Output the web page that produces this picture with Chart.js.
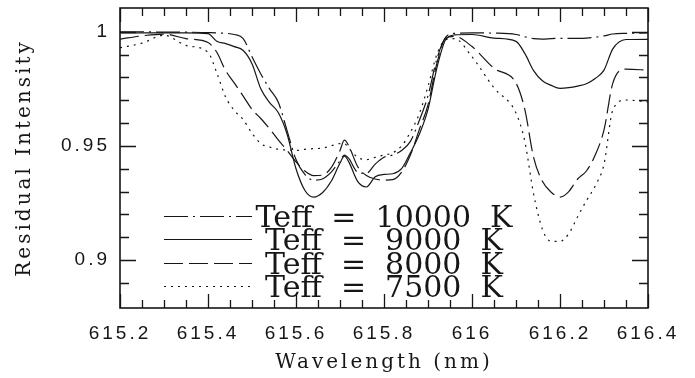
<!DOCTYPE html>
<html>
<head>
<meta charset="utf-8">
<script src="https://cdn.jsdelivr.net/npm/chart.js@4.4.1/dist/chart.umd.min.js"></script>
<style>
  html, body { margin: 0; padding: 0; background: #fff; }
  #wrap { width: 695px; height: 378px; }
</style>
</head>
<body>
<div id="wrap"><canvas id="spec" width="695" height="378"></canvas></div>
<script>
// --- DATA ---
const wavelength = [615.20, 615.25, 615.30, 615.35, 615.40, 615.42, 615.44, 615.46, 615.48, 615.50,
  615.52, 615.54, 615.56, 615.58, 615.60, 615.62, 615.64, 615.66, 615.68, 615.70,
  615.71, 615.72, 615.74, 615.76, 615.78, 615.80, 615.82, 615.84, 615.86, 615.88,
  615.90, 615.92, 615.94, 615.96, 616.00, 616.05, 616.10, 616.12, 616.14, 616.16,
  616.18, 616.20, 616.22, 616.24, 616.26, 616.28, 616.30, 616.32, 616.35, 616.40];

const teff10000 = [1.0000, 1.0000, 0.9998, 0.9998, 0.9996, 0.9995, 0.9993, 0.9988, 0.9970, 0.9890,
  0.9815, 0.9750, 0.9690, 0.9565, 0.9440, 0.9375, 0.9350, 0.9355, 0.9385, 0.9435,
  0.9460, 0.9445, 0.9385, 0.9380, 0.9420, 0.9450, 0.9460, 0.9480, 0.9520, 0.9610,
  0.9720, 0.9880, 0.9975, 0.9993, 0.9995, 0.9994, 0.9988, 0.9978, 0.9970, 0.9968,
  0.9970, 0.9971, 0.9971, 0.9971, 0.9972, 0.9976, 0.9982, 0.9990, 0.9993, 0.9995];

const teff9000 = [0.9995, 0.9995, 0.9995, 0.9995, 0.9992, 0.9958, 0.9948, 0.9935, 0.9918, 0.9860,
  0.9750, 0.9690, 0.9645, 0.9550, 0.9400, 0.9306, 0.9276, 0.9295, 0.9345, 0.9425,
  0.9455, 0.9430, 0.9345, 0.9320, 0.9365, 0.9375, 0.9378, 0.9400, 0.9470, 0.9550,
  0.9660, 0.9840, 0.9965, 0.9986, 0.9988, 0.9972, 0.9958, 0.9905, 0.9830, 0.9785,
  0.9765, 0.9752, 0.9755, 0.9762, 0.9772, 0.9795, 0.9832, 0.9925, 0.9966, 0.9967];

const teff8000 = [0.9968, 0.9982, 0.9990, 0.9970, 0.9953, 0.9910, 0.9830, 0.9775, 0.9718, 0.9660,
  0.9620, 0.9575, 0.9525, 0.9480, 0.9430, 0.9390, 0.9370, 0.9372, 0.9405, 0.9480,
  0.9525, 0.9500, 0.9410, 0.9370, 0.9355, 0.9350, 0.9352, 0.9385, 0.9460, 0.9570,
  0.9680, 0.9860, 0.9972, 0.9980, 0.9935, 0.9840, 0.9775, 0.9660, 0.9450, 0.9345,
  0.9297, 0.9276, 0.9300, 0.9355, 0.9390, 0.9460, 0.9570, 0.9775, 0.9836, 0.9832];

const teff7500 = [0.9930, 0.9950, 0.9985, 0.9940, 0.9910, 0.9820, 0.9714, 0.9655, 0.9615, 0.9556,
  0.9510, 0.9495, 0.9485, 0.9482, 0.9480, 0.9485, 0.9488, 0.9490, 0.9500, 0.9510,
  0.9510, 0.9490, 0.9450, 0.9440, 0.9450, 0.9460, 0.9470, 0.9500, 0.9560, 0.9640,
  0.9760, 0.9900, 0.9965, 0.9970, 0.9890, 0.9754, 0.9644, 0.9520, 0.9290, 0.9135,
  0.9082, 0.9082, 0.9116, 0.9190, 0.9260, 0.9325, 0.9420, 0.9657, 0.9701, 0.9692];

const xTickLabels = [615.2, 615.4, 615.6, 615.8, 616, 616.2, 616.4];
const yTickLabels = [0.9, 0.95, 1];
const seriesNames = ['Teff  =  10000  K', 'Teff  =  9000  K', 'Teff  =  8000  K', 'Teff  =  7500  K'];

// --- STYLE ---
const ink = '#161616';
const dashes = [[24, 5, 2, 5], [], [19, 6], [2, 5]];
const seriesValues = [teff10000, teff9000, teff8000, teff7500];

const datasets = seriesValues.map((vals, i) => ({
    label: seriesNames[i],
    data: wavelength.map((w, k) => ({ x: w, y: vals[k] })),
    borderColor: ink,
    borderWidth: 1.2,
    borderDash: dashes[i],
    pointRadius: 0,
    fill: false,
    cubicInterpolationMode: 'monotone'
}));

// wide letter spacing for the axis text, like the original plot
const spacing = {
    id: 'spacing',
    beforeDraw(chart) { chart.ctx.letterSpacing = '3px'; }
};

// closed frame with inward ticks on all four sides
const frameTicks = {
    id: 'frameTicks',
    afterDatasetsDraw(chart) {
        const { ctx, chartArea: a, scales: { x, y } } = chart;
        ctx.save();
        ctx.strokeStyle = ink;
        ctx.lineWidth = 1.3;
        ctx.beginPath();
        for (let k = 0; k <= 24; k++) {
            const px = Math.round(x.getPixelForValue(615.2 + k * 0.05)) + 0.5;
            const len = k % 4 === 0 ? 14 : 8;
            ctx.moveTo(px, a.bottom); ctx.lineTo(px, a.bottom - len);
            ctx.moveTo(px, a.top); ctx.lineTo(px, a.top + len);
        }
        for (let k = 88; k <= 101; k++) {
            const py = Math.round(y.getPixelForValue(k / 100)) + 0.5;
            if (py < a.top + 2 || py > a.bottom - 2) continue;
            const len = k % 5 === 0 ? 16 : 9;
            ctx.moveTo(a.left, py); ctx.lineTo(a.left + len, py);
            ctx.moveTo(a.right, py); ctx.lineTo(a.right - len, py);
        }
        ctx.stroke();
        ctx.lineWidth = 1.6;
        ctx.strokeRect(a.left, a.top, a.right - a.left, a.bottom - a.top);
        ctx.restore();
    }
};

// legend drawn inside the plot, text centred under the dip
const legendRows = {
    id: 'legendRows',
    afterDraw(chart) {
        const { ctx, chartArea: a } = chart;
        const cx = (a.left + a.right) / 2;
        ctx.save();
        ctx.letterSpacing = '0px';
        ctx.fillStyle = ink;
        ctx.strokeStyle = ink;
        ctx.lineWidth = 1.2;
        ctx.font = '30px "DejaVu Serif"';
        ctx.textAlign = 'center';
        ctx.textBaseline = 'alphabetic';
        chart.data.datasets.forEach((ds, i) => {
            const base = a.bottom - 11 - (3 - i) * 23.4;
            const ly = Math.round(base - 11) + 0.5;
            ctx.setLineDash(ds.borderDash);
            ctx.beginPath();
            ctx.moveTo(a.left + 44, ly);
            ctx.lineTo(a.left + 132, ly);
            ctx.stroke();
            ctx.setLineDash([]);
            ctx.fillText(ds.label, cx, base);
        });
        ctx.restore();
    }
};

new Chart(document.getElementById('spec'), {
    type: 'line',
    data: { datasets },
    options: {
        responsive: false,
        animation: false,
        devicePixelRatio: 1,
        layout: { padding: { top: 8, right: 47, left: 0, bottom: 0 } },
        plugins: { legend: { display: false }, tooltip: { enabled: false } },
        scales: {
            x: {
                type: 'linear', min: 615.2, max: 616.4,
                afterBuildTicks: s => { s.ticks = xTickLabels.map(v => ({ value: v })); },
                afterFit: s => { s.height = 70; s.paddingLeft = 0; s.paddingRight = 0; },
                grid: { display: false, drawTicks: false },
                border: { display: false },
                ticks: {
                    padding: 14, color: ink, maxRotation: 0, autoSkip: false,
                    font: { family: 'Liberation Sans', size: 19 },
                    callback: v => String(+Number(v).toFixed(1))
                },
                title: {
                    display: true, text: 'Wavelength (nm)', color: ink,
                    font: { family: 'DejaVu Serif', size: 20 }, padding: { bottom: 3 }
                }
            },
            y: {
                type: 'linear', min: 0.879, max: 1.0104,
                afterBuildTicks: s => { s.ticks = yTickLabels.map(v => ({ value: v })); },
                afterFit: s => { s.width = 120; s.paddingTop = 0; s.paddingBottom = 0; },
                grid: { display: false, drawTicks: false },
                border: { display: false },
                ticks: {
                    padding: 10, color: ink, autoSkip: false,
                    font: { family: 'Liberation Sans', size: 19 },
                    callback: v => String(+Number(v).toFixed(2))
                },
                title: {
                    display: true, text: 'Residual Intensity', color: ink,
                    font: { family: 'DejaVu Serif', size: 20 }, padding: { top: 13 }
                }
            }
        }
    },
    plugins: [spacing, frameTicks, legendRows]
});
</script>
</body>
</html>
